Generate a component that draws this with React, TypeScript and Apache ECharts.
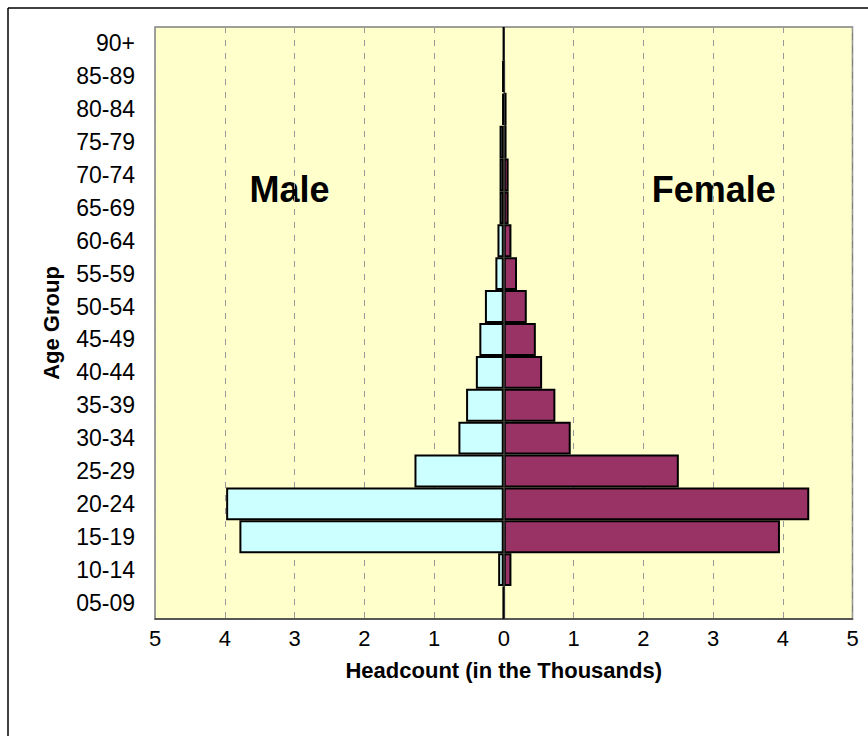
import React, { useEffect, useRef } from "react";
import * as echarts from "echarts";

const ageGroups = [
  "90+", "85-89", "80-84", "75-79", "70-74", "65-69", "60-64", "55-59", "50-54",
  "45-49", "40-44", "35-39", "30-34", "25-29", "20-24", "15-19", "10-14", "05-09",
];
const maleValues = [
  0, 0.02, 0.02, 0.06, 0.06, 0.06, 0.09, 0.12, 0.27,
  0.35, 0.4, 0.54, 0.65, 1.28, 3.98, 3.79, 0.08, 0.01,
];
const femaleValues = [
  0, 0.01, 0.04, 0.04, 0.07, 0.07, 0.11, 0.19, 0.33,
  0.46, 0.55, 0.74, 0.96, 2.51, 4.38, 3.96, 0.11, 0.01,
];
const xMin = -5;
const xMax = 5;

const FONT = "'Liberation Sans', Arial, sans-serif";

export default function App() {
  const ref = useRef<HTMLDivElement>(null);
  useEffect(() => {
    if (!ref.current) return;
    const chart = echarts.init(ref.current, null, { renderer: "svg" });
    chart.setOption({
      animation: false,
      backgroundColor: "#ffffff",
      textStyle: { fontFamily: FONT },
      grid: {
        left: 155,
        right: 15.5,
        top: 27,
        bottom: 117,
        show: true,
        backgroundColor: "#FFFFCC",
        borderColor: "#808080",
        borderWidth: 1.5,
      },
      xAxis: {
        type: "value",
        min: xMin,
        max: xMax,
        interval: 1,
        name: "Headcount (in the Thousands)",
        nameLocation: "middle",
        nameGap: 40,
        nameTextStyle: { fontFamily: FONT, fontSize: 22, fontWeight: "bold", color: "#000" },
        axisLine: { show: true, lineStyle: { color: "#404040", width: 1.5 } },
        axisTick: { show: false },
        axisLabel: {
          fontFamily: FONT,
          fontSize: 22,
          color: "#000",
          margin: 8,
          formatter: (v: number) => String(Math.abs(v)),
        },
        splitLine: {
          show: true,
          lineStyle: { color: "#999999", type: [6, 7], width: 1 },
        },
      },
      yAxis: {
        type: "category",
        data: ageGroups,
        inverse: true,
        name: "Age Group",
        nameLocation: "middle",
        nameGap: 93,
        nameTextStyle: { fontFamily: FONT, fontSize: 22, fontWeight: "bold", color: "#000" },
        axisLine: { show: false },
        axisTick: { show: false },
        axisLabel: { fontFamily: FONT, fontSize: 23, color: "#000", margin: 20 },
        splitLine: { show: false },
      },
      series: [
        {
          name: "Male",
          type: "bar",
          data: maleValues.map((v) => -v),
          barGap: "-100%",
          barCategoryGap: "0%",
          itemStyle: { color: "#CCFFFF", borderColor: "#000", borderWidth: 2 },
        },
        {
          name: "Female",
          type: "bar",
          data: femaleValues,
          barGap: "-100%",
          barCategoryGap: "0%",
          itemStyle: { color: "#993366", borderColor: "#000", borderWidth: 2 },
          markLine: {
            silent: true,
            symbol: "none",
            label: { show: false },
            lineStyle: { color: "#333", type: "solid", width: 1 },
            data: [{ xAxis: 0 }],
          },
        },
      ],
      graphic: [
        { type: "line", shape: { x1: 8, y1: 8, x2: 868, y2: 8 }, style: { stroke: "#000", lineWidth: 1.5 } },
        { type: "line", shape: { x1: 8, y1: 8, x2: 8, y2: 736 }, style: { stroke: "#000", lineWidth: 1.5 } },
        {
          type: "text",
          x: 289.5,
          y: 189,
          style: {
            text: "Male",
            font: `bold 36px ${FONT}`,
            fill: "#000",
            textAlign: "center",
            textVerticalAlign: "middle",
          },
        },
        {
          type: "text",
          x: 713.7,
          y: 189,
          style: {
            text: "Female",
            font: `bold 36px ${FONT}`,
            fill: "#000",
            textAlign: "center",
            textVerticalAlign: "middle",
          },
        },
      ],
    });
    return () => chart.dispose();
  }, []);
  return (
    <div
      ref={ref}
      style={{ position: "absolute", left: 0, top: 0, width: 868, height: 736 }}
    />
  );
}
